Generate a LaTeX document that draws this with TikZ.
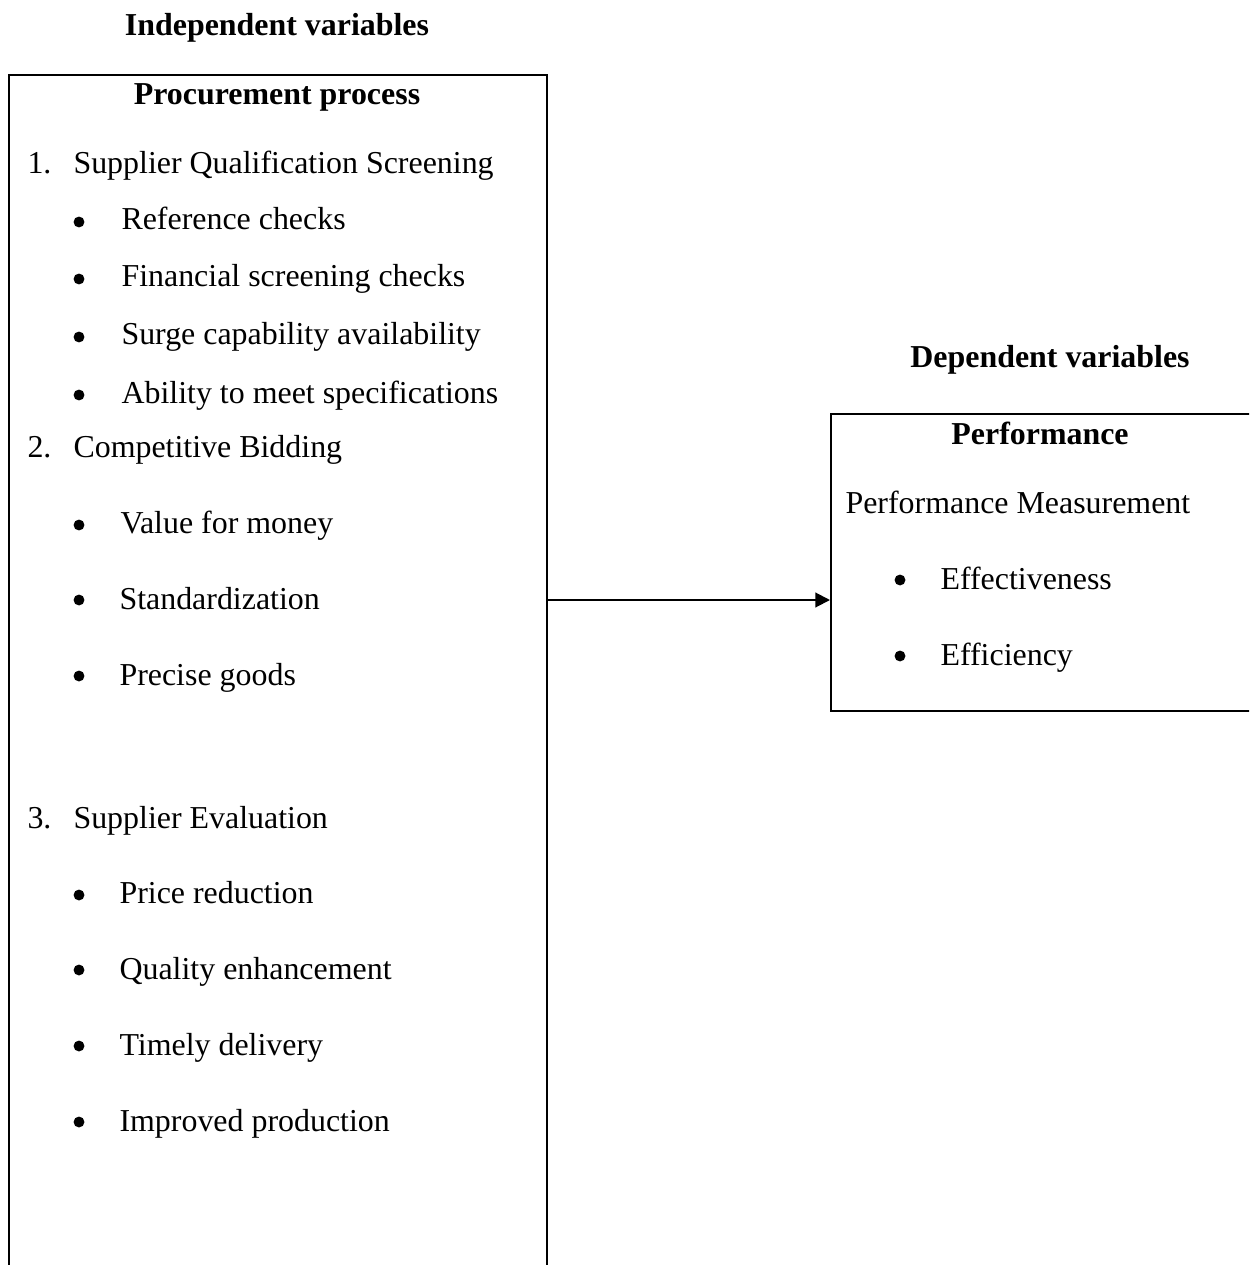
\documentclass[tikz,border=0pt]{standalone}
\usepackage{fontspec}
\setmainfont{Liberation Serif}
\usetikzlibrary{arrows.meta}
\begin{document}
\begin{tikzpicture}[x=0.376pt,y=-0.376pt,
  txt/.style={anchor=base west,inner sep=0pt,font=\fontsize{12pt}{14pt}\selectfont},
  ttl/.style={anchor=base,inner sep=0pt,font=\fontsize{12pt}{14pt}\selectfont\bfseries},
  dot/.style={circle,fill,inner sep=0pt,minimum size=4.1pt},
  box/.style={draw,line width=0.9pt,rectangle,anchor=north west,inner sep=0pt},
  conn/.style={line width=0.75pt,-{Triangle[length=5.5pt,width=5.5pt]}}]
\useasboundingbox (0,0) rectangle (1249,1265);
\clip (0,0) rectangle (1249,1265);
% boxes
\node[box,minimum width=538*0.376pt,minimum height=1260*0.376pt] (left) at (8,74) {};
\node[box,minimum width=460*0.376pt,minimum height=297*0.376pt] (right) at (830,413) {};
% titles
\node[ttl] (indep) at (277,36) {Independent variables};
\node[ttl] (proc) at (277,105) {Procurement process};
\node[ttl] (dep) at (1050,367) {Dependent variables};
\node[ttl] (perf) at (1040,444) {Performance};
% left list
\node[txt] (n1) at (27,174) {1.};
\node[txt] (h1) at (73,174) {Supplier Qualification Screening};
\node[dot] (b11) at (79,222) {};
\node[txt] (t11) at (121,230) {Reference checks};
\node[dot] (b12) at (79,279) {};
\node[txt] (t12) at (121,287) {Financial screening checks};
\node[dot] (b13) at (79,337) {};
\node[txt] (t13) at (121,345) {Surge capability availability};
\node[dot] (b14) at (79,395) {};
\node[txt] (t14) at (121,403) {Ability to meet specifications};
\node[txt] (n2) at (27,457) {2.};
\node[txt] (h2) at (73,457) {Competitive Bidding};
\node[dot] (b21) at (79,525) {};
\node[txt] (t21) at (120,533) {Value for money};
\node[dot] (b22) at (79,600) {};
\node[txt] (t22) at (119,609) {Standardization};
\node[dot] (b23) at (79,676) {};
\node[txt] (t23) at (119,685) {Precise goods};
\node[txt] (n3) at (27,828) {3.};
\node[txt] (h3) at (73,828) {Supplier Evaluation};
\node[dot] (b31) at (79,895) {};
\node[txt] (t31) at (119,903) {Price reduction};
\node[dot] (b32) at (79,970) {};
\node[txt] (t32) at (119,979) {Quality enhancement};
\node[dot] (b33) at (79,1046) {};
\node[txt] (t33) at (119,1055) {Timely delivery};
\node[dot] (b34) at (79,1122) {};
\node[txt] (t34) at (119,1131) {Improved production};
% right list
\node[txt] (pm) at (845,513) {Performance Measurement};
\node[dot] (rb1) at (900,580) {};
\node[txt] (r1) at (940,589) {Effectiveness};
\node[dot] (rb2) at (900,656) {};
\node[txt] (r2) at (940,665) {Efficiency};
% connector
\coordinate (ay) at (0,600);
\draw[conn] (left.north east |- ay) -- (right.north west |- ay);
\end{tikzpicture}
\end{document}
